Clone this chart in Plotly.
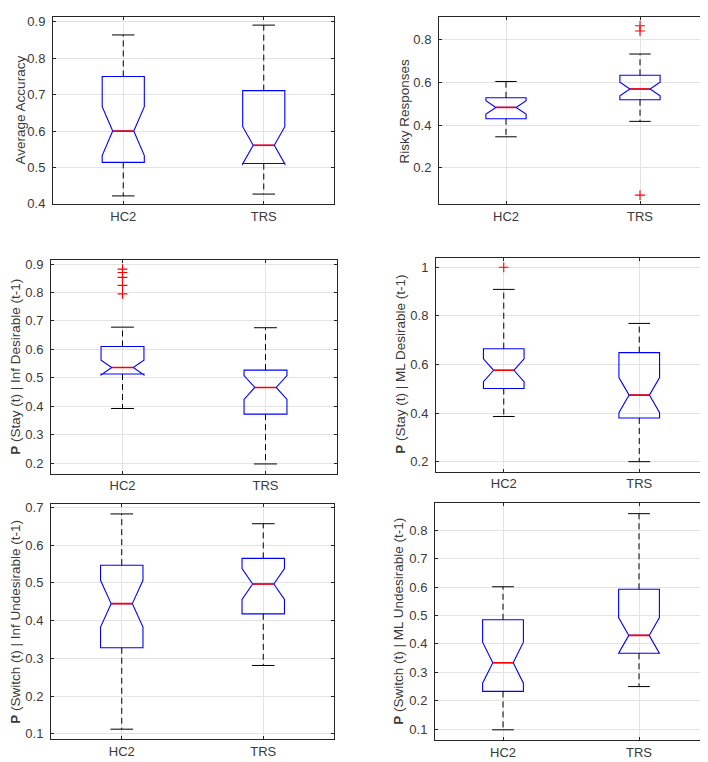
import plotly.graph_objects as go

W, H = 708, 762

groups = ["HC2", "TRS"]
positions = [1, 2]

# ---- data ----
acc_lower = [0.422, 0.427]
acc_q1 = [0.514, 0.511]
acc_median = [0.600, 0.561]
acc_q3 = [0.750, 0.711]
acc_upper = [0.864, 0.891]
acc_notch = [0.067, 0.051]
acc_out_hc2 = []
acc_out_trs = []

risky_lower = [0.345, 0.417]
risky_q1 = [0.429, 0.518]
risky_median = [0.482, 0.568]
risky_q3 = [0.527, 0.632]
risky_upper = [0.603, 0.731]
risky_notch = [0.031, 0.032]
risky_out_hc2 = []
risky_out_trs = [0.863, 0.838, 0.073]

stayinf_lower = [0.392, 0.197]
stayinf_q1 = [0.513, 0.372]
stayinf_median = [0.536, 0.466]
stayinf_q3 = [0.610, 0.527]
stayinf_upper = [0.678, 0.676]
stayinf_notch = [0.026, 0.042]
stayinf_out_hc2 = [0.882, 0.870, 0.853, 0.825, 0.795]
stayinf_out_trs = []

stayml_lower = [0.386, 0.200]
stayml_q1 = [0.501, 0.380]
stayml_median = [0.576, 0.474]
stayml_q3 = [0.665, 0.649]
stayml_upper = [0.909, 0.769]
stayml_notch = [0.047, 0.072]
stayml_out_hc2 = [1.0]
stayml_out_trs = []

swinf_lower = [0.112, 0.281]
swinf_q1 = [0.328, 0.418]
swinf_median = [0.445, 0.497]
swinf_q3 = [0.547, 0.565]
swinf_upper = [0.683, 0.657]
swinf_notch = [0.062, 0.041]
swinf_out_hc2 = []
swinf_out_trs = []

swml_lower = [0.098, 0.250]
swml_q1 = [0.233, 0.367]
swml_median = [0.334, 0.430]
swml_q3 = [0.485, 0.592]
swml_upper = [0.601, 0.858]
swml_notch = [0.072, 0.063]
swml_out_hc2 = []
swml_out_trs = []

y_titles = [
    "Average Accuracy",
    "Risky Responses",
    "<b>P</b> (Stay (t) | Inf Desirable (t-1)",
    "<b>P</b> (Stay (t) | ML Desirable (t-1)",
    "<b>P</b> (Switch (t) | Inf Undesirable (t-1)",
    "<b>P</b> (Switch (t) | ML Undesirable (t-1)",
]
y_ranges = [[0.4, 0.9135], [0.032, 0.904], [0.163, 0.914],
            [0.159, 1.038], [0.085, 0.709], [0.061, 0.895]]
y_ticks = [[0.4, 0.5, 0.6, 0.7, 0.8, 0.9],
           [0.2, 0.4, 0.6, 0.8],
           [0.2, 0.3, 0.4, 0.5, 0.6, 0.7, 0.8, 0.9],
           [0.2, 0.4, 0.6, 0.8, 1.0],
           [0.1, 0.2, 0.3, 0.4, 0.5, 0.6, 0.7],
           [0.1, 0.2, 0.3, 0.4, 0.5, 0.6, 0.7, 0.8]]
y_ticktext = [["0.4", "0.5", "0.6", "0.7", "0.8", "0.9"],
              ["0.2", "0.4", "0.6", "0.8"],
              ["0.2", "0.3", "0.4", "0.5", "0.6", "0.7", "0.8", "0.9"],
              ["0.2", "0.4", "0.6", "0.8", "1"],
              ["0.1", "0.2", "0.3", "0.4", "0.5", "0.6", "0.7"],
              ["0.1", "0.2", "0.3", "0.4", "0.5", "0.6", "0.7", "0.8"]]

panels = [
    (acc_lower, acc_q1, acc_median, acc_q3, acc_upper, acc_notch, acc_out_hc2, acc_out_trs),
    (risky_lower, risky_q1, risky_median, risky_q3, risky_upper, risky_notch, risky_out_hc2, risky_out_trs),
    (stayinf_lower, stayinf_q1, stayinf_median, stayinf_q3, stayinf_upper, stayinf_notch, stayinf_out_hc2, stayinf_out_trs),
    (stayml_lower, stayml_q1, stayml_median, stayml_q3, stayml_upper, stayml_notch, stayml_out_hc2, stayml_out_trs),
    (swinf_lower, swinf_q1, swinf_median, swinf_q3, swinf_upper, swinf_notch, swinf_out_hc2, swinf_out_trs),
    (swml_lower, swml_q1, swml_median, swml_q3, swml_upper, swml_notch, swml_out_hc2, swml_out_trs),
]

# ---- layout geometry (pixels) ----
px_boxes = [  # x0, x1, ytop, ybottom
    (45, 326, 5, 195),
    (431, 699, 5, 195),
    (43, 329, 252, 469),
    (428, 699, 250, 467),
    (43, 326, 500, 739),
    (427, 699, 499, 740),
]
title_x_px = [12, 396, 8, 393, 8, 391]

BOX_W = 0.30
CAP_W = 0.08
NOTCH_W = 0.25
nw = 1 - 2 * NOTCH_W

AXIS_COLOR = "#262626"
TEXT_COLOR = "#3a3a3a"
GRID_COLOR = "#e3e3e3"
FONT = "Liberation Sans, Arial, Helvetica, sans-serif"

fig = go.Figure()
layout = {}
annotations = []

for i, (lo, q1, med, q3, up, notch, out_a, out_b) in enumerate(panels):
    k = "" if i == 0 else str(i + 1)
    xa, ya = "x" + k, "y" + k

    # whiskers (dashed)
    wx, wy = [], []
    for p, a, b, c, d in zip(positions, lo, q1, q3, up):
        wx += [p, p, None, p, p, None]
        wy += [c, d, None, b, a, None]
    fig.add_trace(go.Scatter(x=wx, y=wy, mode="lines", xaxis=xa, yaxis=ya,
                             line=dict(color="#000000", width=1, dash="6px,4px"),
                             hoverinfo="skip", showlegend=False))
    # caps
    cx, cy = [], []
    for p, a, d in zip(positions, lo, up):
        cx += [p - CAP_W, p + CAP_W, None, p - CAP_W, p + CAP_W, None]
        cy += [d, d, None, a, a, None]
    fig.add_trace(go.Scatter(x=cx, y=cy, mode="lines", xaxis=xa, yaxis=ya,
                             line=dict(color="#000000", width=1),
                             hoverinfo="skip", showlegend=False))
    # notched boxes
    fig.add_trace(go.Box(x=positions, q1=q1, median=med, q3=q3,
                         lowerfence=q1, upperfence=q3, notchspan=notch,
                         notched=True, notchwidth=NOTCH_W, width=BOX_W,
                         whiskerwidth=0, boxpoints=False,
                         line=dict(color="#0000ff", width=1.1),
                         fillcolor="rgba(0,0,0,0)",
                         xaxis=xa, yaxis=ya, showlegend=False, hoverinfo="skip"))
    # medians (red)
    mx, my = [], []
    for p, m in zip(positions, med):
        mx += [p - BOX_W / 2 * nw, p + BOX_W / 2 * nw, None]
        my += [m, m, None]
    fig.add_trace(go.Scatter(x=mx, y=my, mode="lines", xaxis=xa, yaxis=ya,
                             line=dict(color="#ff0000", width=1.6),
                             hoverinfo="skip", showlegend=False))
    # outliers
    ox = [positions[0]] * len(out_a) + [positions[1]] * len(out_b)
    oy = list(out_a) + list(out_b)
    if oy:
        fig.add_trace(go.Scatter(x=ox, y=oy, mode="markers", xaxis=xa, yaxis=ya,
                                 marker=dict(symbol="cross-thin", size=7,
                                             line=dict(color="#ff0000", width=1.1)),
                                 hoverinfo="skip", showlegend=False))

    x0, x1, yt, yb = px_boxes[i]
    dom_x = [x0 / W, x1 / W]
    dom_y = [1 - yb / H, 1 - yt / H]
    layout["xaxis" + k] = dict(
        domain=dom_x, anchor=ya, range=[0.5, 2.5],
        tickmode="array", tickvals=positions, ticktext=groups,
        showgrid=True, gridcolor=GRID_COLOR, gridwidth=1,
        showline=True, linecolor=AXIS_COLOR, linewidth=1, mirror="ticks",
        ticks="inside", ticklen=3, tickcolor=AXIS_COLOR,
        zeroline=False, ticklabelstandoff=0,
        tickfont=dict(family=FONT, size=13, color=TEXT_COLOR),
    )
    layout["yaxis" + k] = dict(
        domain=dom_y, anchor=xa, range=y_ranges[i],
        tickmode="array", tickvals=y_ticks[i], ticktext=y_ticktext[i],
        showgrid=True, gridcolor=GRID_COLOR, gridwidth=1,
        showline=True, linecolor=AXIS_COLOR, linewidth=1, mirror="ticks",
        ticks="inside", ticklen=3, tickcolor=AXIS_COLOR,
        zeroline=False, ticklabelstandoff=4,
        tickfont=dict(family=FONT, size=13, color=TEXT_COLOR),
    )
    annotations.append(dict(
        text=y_titles[i], xref="paper", yref="paper",
        x=title_x_px[i] / W, y=(dom_y[0] + dom_y[1]) / 2,
        xanchor="center", yanchor="middle", textangle=-90, showarrow=False,
        font=dict(family=FONT, size=13.5, color=TEXT_COLOR),
    ))

fig.update_layout(
    width=W, height=H,
    margin=dict(l=0, r=0, t=0, b=0),
    paper_bgcolor="white", plot_bgcolor="white",
    showlegend=False,
    annotations=annotations,
    **layout,
)

fig.write_html("out.html")
